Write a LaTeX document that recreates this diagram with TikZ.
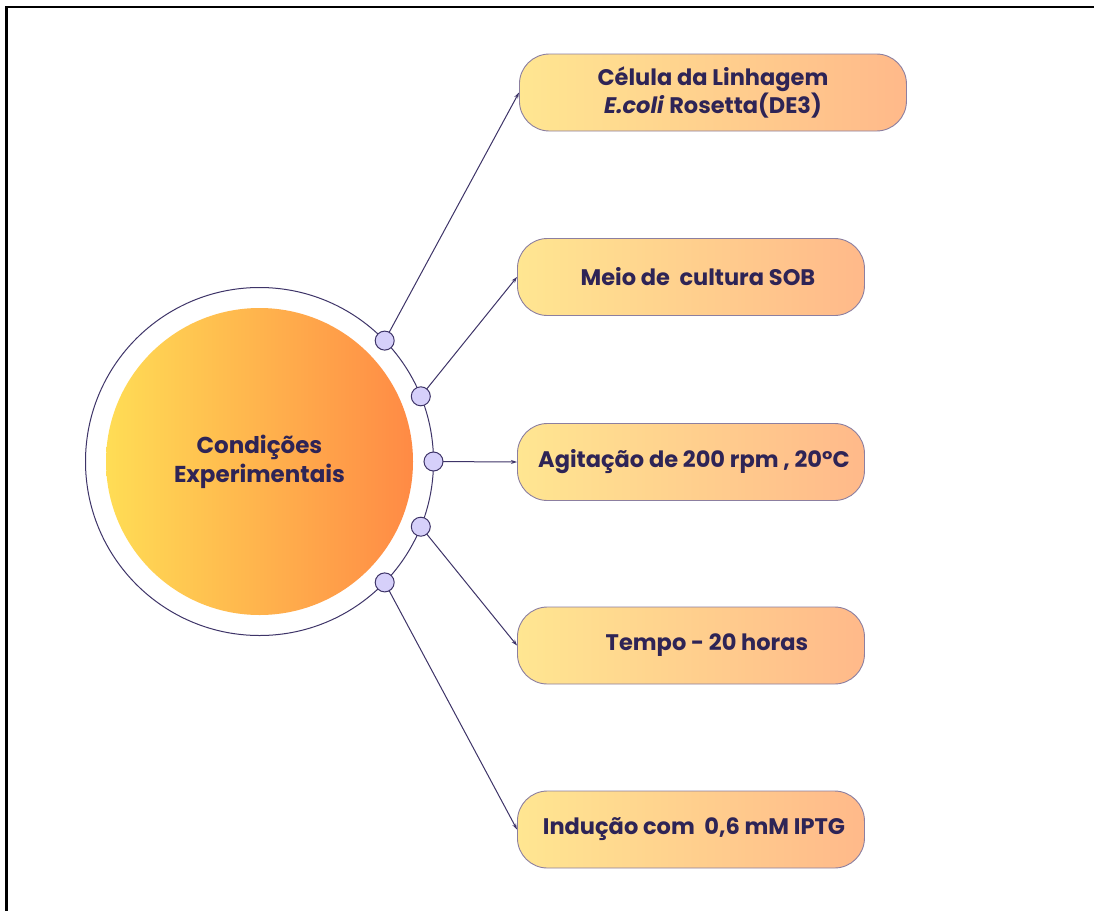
\documentclass[tikz,border=0pt]{standalone}
\usepackage{fontspec}
\setmainfont{Poppins}
\usetikzlibrary{arrows.meta,shadings}
\definecolor{ink}{HTML}{2E2456}
\definecolor{linec}{HTML}{3E3468}
\definecolor{dotfill}{HTML}{D6D0FA}
\definecolor{boxl}{HTML}{FFE691}
\definecolor{boxr}{HTML}{FFB98A}
\definecolor{boxedge}{HTML}{8C7FA0}
\definecolor{circl}{HTML}{FFDD55}
\definecolor{circr}{HTML}{FF8A45}
\begin{document}
\begin{tikzpicture}[x=1pt,y=-1pt,
  boxstyle/.style={draw=boxedge, line width=0.9pt, rounded corners=30pt,
    left color=boxl, right color=boxr, minimum height=77pt, text=ink,
    font=\bfseries\fontsize{22.5}{28}\selectfont, align=center, anchor=west, inner sep=0pt},
  dotstyle/.style={circle, draw=linec, fill=dotfill, line width=1pt,
    minimum size=19pt, inner sep=0pt},
  conn/.style={draw=linec, line width=1pt, -{Stealth[length=6pt,width=4pt]}}]
\useasboundingbox (0,0) rectangle (1094,910);
\fill[white] (0,0) rectangle (1094,910);
\draw[line width=2.5pt, black] (6.5,912) -- (6.5,7) -- (1096,7);
% ring and core
\node[circle, draw=linec, line width=1pt, minimum size=348pt, inner sep=0pt] (ring) at (259.5,461.5) {};
\node[circle, minimum size=307pt, inner sep=0pt, left color=circl, right color=circr,
  text=ink, font=\bfseries\fontsize{23}{29}\selectfont, align=center] (core) at (259.5,461.5) {Condições\\Experimentais};
% boxes
\node[boxstyle, minimum width=387pt] (b1) at (519,92.5) {Célula da Linhagem\\\textit{E.coli} Rosetta(DE3)};
\node[boxstyle, minimum width=347pt] (b2) at (517,277) {\hspace*{14pt}Meio de\ \ cultura SOB};
\node[boxstyle, minimum width=347pt] (b3) at (517,462) {\hspace*{6pt}Agitação de 200 rpm , 20°C};
\node[boxstyle, minimum width=347pt] (b4) at (517,645.5) {\hspace*{32pt}Tempo - 20 horas};
\node[boxstyle, minimum width=347pt] (b5) at (517,829.5) {\hspace*{6pt}Indução com\ \ 0,6 mM IPTG};
% connectors
\coordinate (p1) at (384.7,340.6);
\coordinate (p2) at (420.8,396.3);
\coordinate (p3) at (433.5,461.5);
\coordinate (p4) at (420.8,526.7);
\coordinate (p5) at (384.7,582.4);
\draw[conn] (p1) -- (b1.west);
\draw[conn] (p2) -- (b2.west);
\draw[conn] (p3) -- (b3.west);
\draw[conn] (p4) -- (b4.west);
\draw[conn] (p5) -- (b5.west);
% dots
\node[dotstyle] (d1) at (p1) {};
\node[dotstyle] (d2) at (p2) {};
\node[dotstyle] (d3) at (p3) {};
\node[dotstyle] (d4) at (p4) {};
\node[dotstyle] (d5) at (p5) {};
\end{tikzpicture}
\end{document}
